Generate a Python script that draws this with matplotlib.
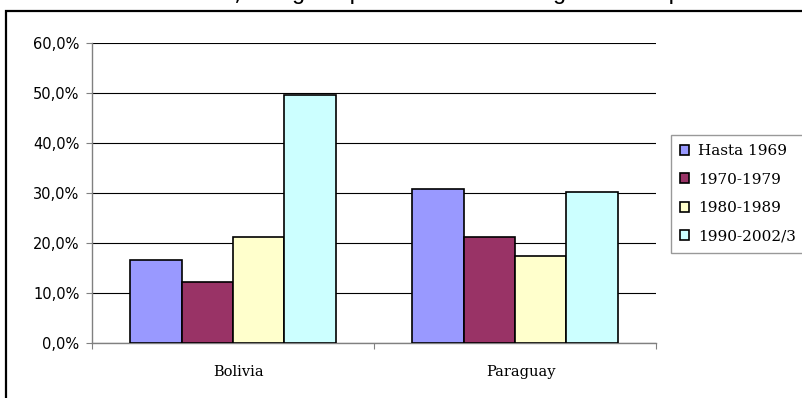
import numpy as np
import matplotlib
matplotlib.use("Agg")
from matplotlib import pyplot as plt
from matplotlib.patches import Rectangle
from matplotlib.ticker import FuncFormatter
from matplotlib.transforms import ScaledTranslation

# datos: porcentaje por período de llegada
paises = ["Bolivia", "Paraguay"]
periodos = ["Hasta 1969", "1970-1979", "1980-1989", "1990-2002/3"]
hasta_1969 = [16.6, 30.8]
p_1970_1979 = [12.3, 21.2]
p_1980_1989 = [21.2, 17.5]
p_1990_2002 = [49.6, 30.2]
series = [hasta_1969, p_1970_1979, p_1980_1989, p_1990_2002]
colores = ["#9999FF", "#993366", "#FFFFCC", "#CCFFFF"]

fig = plt.figure(figsize=(8.02, 3.98), dpi=100)
ax = fig.add_axes([92 / 802, 1 - 343 / 398, 564 / 802, 300 / 398])

# marco del area del grafico
fig.patches.append(Rectangle((5.5 / 802, -0.05), 1.1, 1 - 11 / 398 + 0.05,
                             transform=fig.transFigure, fill=False,
                             edgecolor="black", linewidth=1.6, clip_on=False))

# titulo (queda cortado arriba, solo asoman los trazos inferiores)
fig.text(0.49, 1 + 0.5 / 398, "Distribución, según período de llegada al país",
         ha="center", va="baseline", fontsize=17.5, family="Liberation Mono")

x = np.arange(len(paises))
ancho = 0.182
for i, (vals, col, lab) in enumerate(zip(series, colores, periodos)):
    ax.bar(x + (i - 1.5) * ancho, vals, ancho, color=col, edgecolor="black",
           linewidth=1.2, label=lab, zorder=3)

ax.set_xlim(-0.5, 1.5)
ax.set_ylim(0, 60)
ax.set_yticks(np.arange(0, 61, 10))
ax.yaxis.set_major_formatter(FuncFormatter(lambda v, p: f"{v:.1f}%".replace(".", ",")))
ax.grid(axis="y", color="black", linewidth=0.8, zorder=0)

ax.set_xticks([-0.5, 0.5, 1.5])
ax.set_xticklabels([])
ax.set_xticks(x, minor=True)
ax.set_xticklabels(paises, minor=True, family="DejaVu Serif", fontsize=10.5)
ax.tick_params(axis="x", which="minor", length=0, pad=16)
ax.tick_params(axis="x", which="major", length=4, color="#808080", direction="out")
ax.tick_params(axis="y", length=4.5, color="#808080", labelsize=10.5, pad=4.5)

# nombres de pais un poco corridos a la derecha
desplaza = ScaledTranslation(6 / 100, 0, fig.dpi_scale_trans)
for t in ax.get_xticklabels(minor=True):
    t.set_transform(t.get_transform() + desplaza)

for s in ["top", "right"]:
    ax.spines[s].set_visible(False)
for s in ["left", "bottom"]:
    ax.spines[s].set_color("#808080")
    ax.spines[s].set_linewidth(1.0)

leg = fig.legend(loc="upper left", bbox_to_anchor=(671 / 802, 1 - 135 / 398),
                 prop={"family": "DejaVu Serif", "size": 11}, frameon=True,
                 fancybox=False, edgecolor="#808080", handlelength=0.6,
                 handleheight=0.6, handletextpad=0.6, labelspacing=0.95,
                 borderpad=0.6, borderaxespad=0)
leg.get_frame().set_linewidth(1.0)

fig.savefig("out.png", dpi=100)
